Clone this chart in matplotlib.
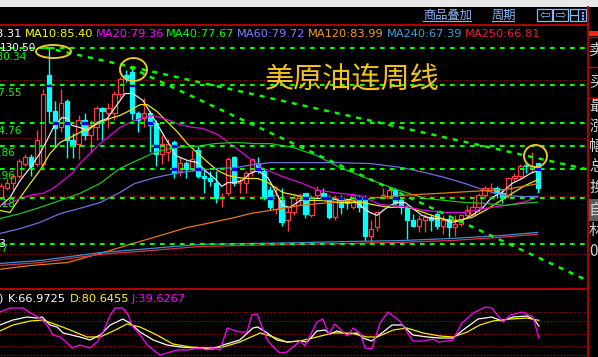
import matplotlib
matplotlib.use('Agg')
import matplotlib.pyplot as plt
from matplotlib.patches import Rectangle, Ellipse
from matplotlib.lines import Line2D

plt.rcParams['font.family'] = ['DejaVu Sans', 'Noto Sans CJK SC']

W, H = 598, 357

# 周K线 (开 高 低 收)
opens = [79.0, 82.7, 84.4, 86.8, 90.9, 93.3, 90.6, 90.9, 121.0, 109.0,
         103.2, 112.4, 98.8, 97.7, 105.9, 100.5, 103.2, 110.0, 108.0, 108.3,
         114.5, 121.0, 122.0, 108.3, 106.6, 108.3, 104.6, 94.3, 94.7, 98.1,
         88.5, 91.25, 89.2, 95.35, 86.5, 86.1, 84.4, 79.0, 80.7, 93.0,
         84.1, 84.4, 88.5, 90.6, 88.5, 81.7, 75.55, 78.3, 71.5, 74.2,
         79.0, 80.7, 73.2, 80.0, 81.0, 79.3, 72.8, 79.3, 78.3, 75.9,
         79.3, 79.3, 66.3, 69.1, 79.3, 79.3, 81.7, 78.3, 75.9, 71.5,
         69.75, 71.5, 72.8, 73.8, 69.75, 71.5, 69.1, 70.4, 73.2, 73.8,
         76.2, 80.3, 81.7, 82.7, 80.7, 80.0, 85.8, 86.5, 90.2, 89.2, 91.25]
highs = [84.4, 85.8, 87.8, 92.6, 94.3, 94.3, 102.2, 116.5, 130.5, 112.4,
         116.5, 113.0, 101.2, 107.3, 108.0, 105.6, 110.7, 110.3, 111.4, 115.8,
         120.6, 122.7, 123.7, 109.0, 113.1, 109.0, 105.6, 100.5, 99.4, 98.8,
         93.0, 91.9, 95.35, 97.0, 89.5, 88.5, 88.5, 81.0, 93.3, 93.6,
         86.1, 88.5, 92.6, 93.0, 89.5, 83.1, 83.4, 82.4, 75.9, 80.0,
         80.7, 80.7, 80.0, 83.4, 82.7, 80.0, 80.0, 80.0, 79.3, 80.7,
         80.0, 80.0, 71.5, 74.2, 82.4, 82.7, 82.4, 79.0, 76.6, 73.8,
         73.2, 73.8, 73.8, 74.9, 73.2, 73.2, 73.2, 73.8, 76.6, 78.3,
         80.7, 83.4, 84.4, 83.4, 81.7, 86.1, 87.8, 90.9, 91.25, 95.0, 91.25]
lows = [78.3, 82.0, 81.7, 86.1, 90.2, 86.8, 89.9, 89.5, 104.6, 96.4,
        101.5, 92.96, 92.96, 92.6, 98.8, 94.7, 98.8, 98.8, 102.9, 105.6,
        113.4, 118.6, 105.6, 101.5, 103.2, 94.7, 90.2, 90.9, 91.9, 86.1,
        86.8, 85.8, 88.5, 85.8, 80.7, 83.4, 77.6, 75.9, 80.0, 83.4,
        81.0, 81.0, 86.8, 87.5, 78.3, 74.9, 73.8, 69.75, 68.0, 73.2,
        76.6, 72.2, 72.5, 79.0, 78.3, 72.1, 71.5, 73.8, 75.55, 75.55,
        74.2, 64.6, 63.63, 68.0, 79.0, 79.0, 76.6, 73.8, 65.3, 69.4,
        67.4, 67.4, 68.0, 68.7, 67.0, 65.7, 66.3, 69.75, 72.5, 73.2,
        74.2, 79.3, 81.0, 79.3, 77.3, 79.3, 85.1, 86.1, 87.5, 87.8, 80.7]
closes = [83.1, 84.4, 86.8, 91.6, 93.3, 89.9, 98.8, 114.8, 109.0, 102.9,
          111.7, 98.8, 97.0, 105.6, 100.8, 103.9, 110.0, 109.0, 109.7, 114.5,
          119.6, 120.0, 108.0, 105.6, 108.0, 103.9, 94.3, 97.7, 97.7, 87.8,
          91.25, 89.2, 92.6, 86.8, 85.8, 85.1, 79.3, 79.6, 92.6, 84.1,
          84.4, 87.8, 92.3, 88.5, 79.3, 75.9, 80.0, 70.8, 74.2, 79.0,
          80.0, 73.8, 79.3, 81.7, 79.0, 72.5, 79.3, 75.9, 77.6, 80.0,
          75.9, 66.0, 68.7, 74.2, 80.0, 81.7, 77.6, 75.9, 71.5, 69.75,
          71.8, 72.5, 71.5, 69.75, 71.5, 69.1, 70.4, 73.2, 74.9, 76.2,
          80.0, 82.4, 82.4, 80.7, 79.3, 85.8, 86.8, 89.9, 89.9, 90.2, 82.4]

# 均线 (读图: 周序号, 价格)
ma5_x = [-0.2, 1.5, 3.2, 4.9, 6.5, 7.7, 8.7, 10.2, 11.1, 11.9, 13.2, 14.6, 16.1, 17.8, 19.1,
         20.8, 22.1, 23.8, 25.8, 27.6, 29.3, 31.3, 33.0, 34.2, 35.8, 37.0, 38.0, 39.2, 40.4,
         41.7, 43.0, 44.7, 45.9, 47.2, 48.4, 50.1, 51.8, 53.4, 55.1, 56.8, 58.5, 59.6, 60.6,
         61.8, 63.0, 64.0, 65.2, 66.3, 67.7, 68.8, 70.5, 72.2, 73.9, 75.5, 77.2, 78.9, 80.6,
         82.2, 83.9, 85.6, 87.3, 88.9, 89.9]
ma5_v = [76.2, 79.3, 85.1, 89.5, 94.3, 98.8, 102.9, 106.6, 106.3, 103.9, 103.2, 102.2, 104.9,
         106.3, 110.0, 114.8, 114.8, 112.4, 105.6, 99.4, 93.6, 91.9, 91.2, 88.5, 85.8, 83.1,
         84.4, 84.4, 85.1, 87.5, 88.5, 86.1, 81.7, 76.6, 75.9, 78.3, 79.0, 79.0, 79.0, 78.3,
         78.6, 77.6, 75.9, 74.2, 73.2, 74.9, 76.6, 77.6, 77.6, 75.9, 73.2, 72.1, 72.1, 70.8,
         71.5, 73.2, 75.6, 79.3, 81.0, 84.1, 85.8, 87.8, 88.3]
ma10_x = [-0.2, 1.5, 3.2, 4.9, 6.5, 8.2, 9.9, 11.6, 13.2, 14.9, 16.6, 18.3, 19.9, 21.6, 23.3,
          24.5, 26.1, 27.8, 29.5, 31.2, 32.8, 34.7, 36.3, 38.0, 39.7, 41.4, 43.0, 44.7, 47.2,
          49.6, 51.8, 53.9, 56.3, 58.5, 60.6, 63.0, 65.2, 67.7, 69.8, 72.2, 74.4, 76.5, 78.9,
          81.1, 83.2, 85.6, 87.8, 89.9]
ma10_v = [74.9, 74.2, 79.3, 84.1, 88.5, 94.3, 98.1, 99.8, 101.5, 103.2, 104.9, 106.3, 107.3,
          109.0, 111.0, 111.0, 108.7, 105.2, 101.8, 97.7, 94.7, 91.2, 88.5, 86.8, 86.1, 85.8,
          85.8, 84.4, 81.0, 80.0, 78.3, 78.3, 77.6, 77.6, 77.6, 76.6, 75.9, 76.2, 74.9, 73.2,
          71.8, 71.5, 72.5, 74.9, 77.6, 80.7, 83.4, 85.4]
ma20_x = [-0.2, 1.5, 3.2, 5.4, 7.0, 8.7, 10.4, 11.9, 13.2, 14.9, 16.6, 18.3, 19.9, 21.6, 23.8,
          25.5, 27.8, 30.0, 32.2, 33.7, 36.3, 39.2, 41.4, 43.7, 46.7, 50.1, 53.4, 56.8, 60.1,
          63.5, 67.7, 71.0, 74.4, 77.7, 81.1, 84.4, 87.3, 89.9]
ma20_v = [76.5, 77.3, 79.0, 80.3, 80.7, 82.4, 85.1, 87.5, 90.9, 94.3, 97.7, 100.5, 103.2,
          104.9, 106.6, 107.3, 105.9, 104.2, 103.2, 102.9, 100.8, 96.4, 93.0, 89.5, 86.8, 84.4,
          81.7, 80.7, 80.0, 76.9, 76.2, 74.9, 74.2, 74.2, 75.6, 76.6, 77.6, 79.4]
ma40_x = [-0.2, 3.2, 6.5, 9.9, 13.2, 16.6, 19.9, 22.4, 25.8, 29.1, 32.5, 35.8, 39.2, 42.5,
          45.1, 48.9, 52.9, 56.8, 60.1, 63.5, 66.8, 71.0, 74.4, 77.7, 81.1, 84.4, 87.3, 89.9]
ma40_v = [72.1, 73.8, 75.9, 78.3, 80.7, 84.1, 89.2, 91.6, 94.7, 96.4, 96.7, 97.7, 98.1, 97.7,
          97.7, 96.4, 93.6, 89.5, 86.8, 84.1, 81.7, 79.0, 78.3, 77.6, 77.3, 76.6, 77.3, 77.7]
ma60_x = [-0.2, 3.2, 6.5, 9.9, 13.2, 16.6, 19.9, 22.4, 25.8, 29.1, 32.5, 35.8, 39.2, 42.5,
          45.1, 50.6, 56.3, 61.8, 67.3, 71.0, 74.4, 77.7, 81.1, 84.4, 87.8, 89.9]
ma60_v = [67.0, 68.7, 70.8, 73.8, 75.6, 77.6, 81.0, 84.1, 86.1, 87.5, 88.5, 89.2, 89.5, 90.6,
          91.2, 91.2, 91.2, 90.9, 89.5, 87.8, 86.1, 84.1, 81.7, 80.0, 79.6, 79.7]
ma120_x = [-0.2, 4.9, 11.1, 16.6, 22.1, 26.6, 31.2, 33.7, 39.2, 41.7, 45.1, 50.1, 58.5, 66.8,
           73.2, 78.9, 84.4, 89.9]
ma120_v = [54.8, 56.1, 57.1, 60.2, 63.6, 66.3, 69.1, 70.1, 72.5, 73.8, 74.9, 76.6, 78.3, 80.0,
           80.7, 81.4, 82.0, 84.0]
ma240_x = [-0.2, 6.5, 16.6, 25.0, 33.3, 41.7, 50.1, 58.5, 66.8, 75.2, 83.6, 89.9]
ma240_v = [56.8, 57.8, 60.5, 61.9, 63.3, 63.6, 63.9, 64.3, 64.6, 65.3, 66.3, 67.4]
ma250_v = [56.1, 57.1, 59.9, 61.2, 62.6, 63.0, 63.3, 63.6, 64.0, 64.6, 65.7, 66.8]

# 画线: 水平位, 趋势线端点
green_levels = [130.34, 117.55, 104.76, 96.86, 88.96, 79.18, 63.37]
red_grid = [119.4, 99.6, 79.8, 60.0]
trend_a = ([7.37, 98.2], [130.5, 88.9])
trend_b = ([21.6, 98.2], [123.7, 51.0])

# KDJ (读图: 周序号, 数值)
k_x = [-0.2, 2.0, 4.35, 6.0, 6.9, 8.2, 9.4, 10.4, 13.2, 14.9, 16.6, 18.3, 20.4, 21.6, 23.3,
       25.5, 27.8, 30.0, 32.8, 35.5, 37.2, 40.0, 42.2, 43.0, 44.6, 46.2, 47.9, 50.1, 51.3,
       52.9, 54.3, 55.1, 56.3, 58.0, 59.6, 60.6, 62.1, 63.8, 65.5, 67.2, 69.0, 71.4, 73.5,
       75.7, 77.4, 79.9, 82.2, 83.9, 85.8, 88.1, 89.4, 90.1]
k_v = [69.8, 81.4, 88.4, 86.0, 88.4, 69.8, 65.1, 51.2, 41.9, 34.9, 46.5, 69.8, 83.7, 74.4,
       53.5, 34.9, 23.3, 18.6, 16.3, 14.0, 23.3, 34.9, 62.8, 65.1, 51.2, 34.9, 30.2, 32.6,
       30.2, 55.8, 58.1, 48.8, 55.8, 48.8, 51.2, 39.5, 32.6, 51.2, 69.8, 69.8, 46.5, 41.9,
       39.5, 39.5, 58.1, 83.7, 88.4, 79.1, 88.4, 90.7, 81.4, 67.0]
d_x = [-0.2, 2.0, 4.9, 7.0, 9.4, 11.6, 14.4, 16.6, 18.8, 21.1, 23.3, 26.1, 28.8, 31.7, 34.5,
       37.2, 40.0, 43.4, 45.6, 47.9, 50.1, 52.9, 55.6, 58.5, 61.3, 63.0, 65.7, 68.0, 70.7,
       73.5, 75.7, 78.1, 80.2, 82.4, 85.3, 88.1, 90.1]
d_v = [55.8, 69.8, 79.1, 81.4, 69.8, 58.1, 41.9, 41.9, 55.8, 72.1, 65.1, 46.5, 25.6, 18.6,
       16.3, 18.6, 30.2, 51.2, 41.9, 30.2, 32.6, 41.9, 51.2, 51.2, 41.9, 41.9, 58.1, 62.8,
       51.2, 44.2, 41.9, 53.5, 69.8, 79.1, 83.7, 86.0, 80.6]
j_x = [-0.2, 1.5, 3.7, 4.9, 6.5, 7.7, 8.7, 9.9, 11.1, 11.9, 13.2, 14.9, 16.1, 17.1, 18.3,
       19.1, 20.4, 21.3, 22.1, 23.3, 24.5, 25.5, 26.6, 27.8, 29.5, 31.2, 33.3, 34.5, 35.5,
       36.7, 37.9, 38.9, 40.0, 41.2, 42.0, 42.9, 43.4, 44.6, 45.6, 46.7, 47.9, 48.9, 50.1,
       50.9, 52.9, 53.9, 54.9, 55.9, 58.0, 59.0, 60.1, 61.0, 62.1, 63.5, 64.8, 66.8, 69.0,
       70.7, 72.4, 73.2, 74.7, 75.7, 77.2, 79.1, 81.1, 82.2, 84.1, 85.3, 87.3, 89.1, 90.1]
j_v = [100, 109.3, 109.3, 97.7, 86.0, 69.8, 46.5, 41.9, 27.9, 16.3, 23.3, 16.3, 30.2, 53.5,
       93.0, 109.3, 109.3, 93.0, 65.1, 46.5, 23.3, 11.6, 0, 4.7, 11.6, 11.6, 16.3, 11.6, 16.3,
       11.6, 62.8, 58.1, 53.5, 53.5, 93.0, 95.3, 76.7, 34.9, 18.6, 4.7, 7.0, 18.6, 32.6, 20.9,
       76.7, 83.7, 48.8, 72.1, 44.2, 62.8, 51.2, 16.3, 14.0, 74.4, 100, 79.1, 32.6, 32.6, 37.2,
       30.2, 32.6, 34.9, 74.4, 97.7, 111.6, 109.3, 76.7, 93.0, 100, 88.4, 39.6]
kdj_grid = [100, 80, 50, 20, 0]

ma_legend = [('MA5:88.31', 'white'), ('MA10:85.40', '#ffff00'), ('MA20:79.36', '#ff00ff'),
             ('MA40:77.67', '#00ff00'), ('MA60:79.72', '#8080ff'), ('MA120:83.99', '#ff9a1a'),
             ('MA240:67.39', '#3aa0e0'), ('MA250:66.81', '#e8203c')]
kdj_legend = [('KDJ(9,3,3)', 'white'), ('K:66.9725', 'white'), ('D:80.6455', '#ffff00'),
              ('J:39.6267', '#ff00ff')]
side_chars = ['卖', '买', '最', '涨', '幅', '总', '换', '自', '林', '0']

UP, DOWN = '#ff3c3c', '#00ffff'
GREEN = '#00ff00'
STEP = 5.97

fig = plt.figure(figsize=(W / 100, H / 100), dpi=100, facecolor='black')


def fx(x):
    return x / W


def fy(y):
    return 1 - y / H


def px_axes(l, t, r, b):
    a = fig.add_axes([l / W, 1 - b / H, (r - l) / W, (b - t) / H])
    a.set_facecolor('black')
    a.set_axis_off()
    return a


# ---- main price panel
ax = px_axes(0, 26, 587, 289)
ax.set_xlim(-1 / STEP, 586 / STEP)
ax.set_ylim(48.08, 137.84)

for lv in red_grid:
    ax.axhline(lv, color='#b00000', lw=0.8, dashes=(1.2, 1.8), zorder=1)

bw = 0.72
for i, (o, h, l, c) in enumerate(zip(opens, highs, lows, closes)):
    col = UP if c >= o else DOWN
    ax.vlines(i, l, h, color=col, lw=1, zorder=3)
    lo, hi = min(o, c), max(o, c)
    if hi - lo < 0.35:
        ax.hlines((o + c) / 2, i - bw / 2, i + bw / 2, color=col, lw=1.2, zorder=4)
    else:
        ax.add_patch(Rectangle((i - bw / 2, lo), bw, hi - lo, lw=0.9, edgecolor=col,
                               facecolor='black' if c >= o else DOWN, zorder=4))
        if c < o:
            for lv in green_levels:
                if lo < lv < hi:
                    ax.add_patch(Rectangle((i - bw / 2, lv - 0.3), bw, 0.6, color='#0000ff',
                                           zorder=6))

ma_lines = [(ma5_x, ma5_v, '#e8e8e8'), (ma10_x, ma10_v, '#e8e800'), (ma20_x, ma20_v, '#e000e0'),
            (ma40_x, ma40_v, '#20c020'), (ma60_x, ma60_v, '#7070e0'),
            (ma120_x, ma120_v, '#e87810'), (ma240_x, ma240_v, '#3a90d0'),
            (ma240_x, ma250_v, '#e03050')]
for xs, vs, col in ma_lines:
    ax.plot(xs, vs, color=col, lw=0.9, zorder=5)

for lv in green_levels:
    ax.axhline(lv, color=GREEN, lw=1.5, dashes=(2.2, 2.6), zorder=5.5)

for xs, vs in (trend_a, trend_b):
    ax.plot(xs, vs, color=GREEN, lw=1.8, dashes=(2, 2.4), zorder=5.5)

label_pos = [(27, -9), (22, -8), (22, -8), (15, -7), (15, -7), (15, -6), (8, -5)]
for lv, (xe, dy) in zip(green_levels, label_pos):
    ax.annotate(f'{lv:.2f}', xy=(0, lv), xycoords=('axes fraction', 'data'), xytext=(xe, dy),
                textcoords='offset pixels', ha='right', va='center', color=GREEN, fontsize=7.5,
                zorder=8)
ax.annotate(f'{max(highs):.2f}', xy=(0, max(highs)), xycoords=('axes fraction', 'data'),
            xytext=(0, 0), textcoords='offset pixels', ha='left', va='center', color='white',
            fontsize=7.5, zorder=8)
ax.annotate(f'{min(lows):.2f}', xy=(0, min(lows)), xycoords=('axes fraction', 'data'),
            xytext=(6, -1), textcoords='offset pixels', ha='right', va='center', color='white',
            fontsize=7.5, zorder=8)

for (cx, cy, w, h) in [(8.79, 129.13, 5.86, 4.44), (22.19, 122.99, 4.52, 7.85),
                       (89.53, 93.47, 3.85, 7.51)]:
    ax.add_patch(Ellipse((cx, cy), w, h, fill=False, edgecolor='#e8c822', lw=1.4, zorder=7))

fig.text(fx(352), fy(80), '美原油连周线', color='#f0c020', fontsize=21,
         family='Noto Sans CJK SC', ha='center', va='center')

# ---- KDJ panel
kx = px_axes(0, 290, 587, 357)
kx.set_xlim(-1 / STEP, 586 / STEP)
kx.set_ylim(-4.65, 151.2)
for lv in kdj_grid:
    kx.axhline(lv, color='#b00000', lw=0.8, dashes=(1.2, 1.8), zorder=1)
kx.plot(k_x, k_v, color='white', lw=0.9, zorder=3)
kx.plot(d_x, d_v, color='#f0f000', lw=0.9, zorder=3)
kx.plot(j_x, j_v, color='#ff00ff', lw=0.9, zorder=3)

# ---- frame, toolbar, legends
fig.add_artist(Rectangle((0, fy(6.5)), 1, 6.5 / H, transform=fig.transFigure,
                         facecolor='#e8e8e8', edgecolor='none'))
for y in (25, 289):
    fig.add_artist(Line2D([fx(0), fx(587.5)], [fy(y), fy(y)], transform=fig.transFigure,
                          color='#c00000', lw=1.3))
fig.add_artist(Line2D([fx(587.5), fx(587.5)], [fy(6.5), 0], transform=fig.transFigure,
                      color='#c00000', lw=1.3))

LINK = '#8cb8f4'
for txt, x0, x1 in [('商品叠加', 423, 471), ('周期', 492, 514)]:
    fig.text(fx(x0), fy(15.5), txt, color=LINK, fontsize=8.8, family='Noto Sans CJK SC',
             ha='left', va='center')
    fig.add_artist(Line2D([fx(x0), fx(x1)], [fy(21), fy(21)], transform=fig.transFigure,
                          color=LINK, lw=0.8))
for x0, x1, sym in [(537, 552, '⇦'), (553, 568, '⇨'), (570, 586, '')]:
    fig.add_artist(Rectangle((fx(x0), fy(21)), (x1 - x0) / W, 12 / H, transform=fig.transFigure,
                             fill=False, edgecolor=LINK, lw=0.9))
    if sym:
        fig.text(fx((x0 + x1) / 2), fy(15), sym, color=LINK, fontsize=9, ha='center',
                 va='center')
fig.add_artist(Line2D([fx(578), fx(578)], [fy(9), fy(21)], transform=fig.transFigure,
                      color=LINK, lw=0.9))
fig.add_artist(Line2D([fx(570), fx(578)], [fy(15), fy(15)], transform=fig.transFigure,
                      color=LINK, lw=0.9))
for y in (12, 15, 18):
    fig.add_artist(Rectangle((fx(582), fy(y + 1)), 1 / W, 1 / H, transform=fig.transFigure,
                             color=LINK))

ma_left = [None, 25, 96, 166, 237, 308, 387, 465]
for (txt, col), xl in zip(ma_legend, ma_left):
    if xl is None:
        fig.text(fx(22), fy(34), txt, color=col, fontsize=8.2, ha='right', va='center')
    else:
        fig.text(fx(xl), fy(34), txt, color=col, fontsize=8.2, ha='left', va='center')

kdj_left = [None, 8, 70, 132]
for (txt, col), xl in zip(kdj_legend, kdj_left):
    if xl is None:
        fig.text(fx(4), fy(299), txt, color=col, fontsize=8.2, ha='right', va='center')
    else:
        fig.text(fx(xl), fy(299), txt, color=col, fontsize=8.2, ha='left', va='center')

# ---- right side panel (clipped)
fig.add_artist(Rectangle((fx(589), fy(36)), 9 / W, 5 / H, transform=fig.transFigure,
                         facecolor='#ff2020', edgecolor='none'))
fig.add_artist(Rectangle((fx(588), fy(221)), 10 / W, 22 / H, transform=fig.transFigure,
                         facecolor='#5a5a5a', edgecolor='none'))
for y in (37, 67, 98):
    fig.add_artist(Line2D([fx(588), 1], [fy(y), fy(y)], transform=fig.transFigure,
                          color='#c00000', lw=1))
for ch, y in zip(side_chars, [50, 82, 106, 126, 147, 167, 187, 210, 231, 251]):
    fig.text(fx(589), fy(y), ch, color='#d0d0d0', fontsize=11, family='Noto Sans CJK SC',
             ha='left', va='center')

fig.savefig('out.png', dpi=100, facecolor='black')
